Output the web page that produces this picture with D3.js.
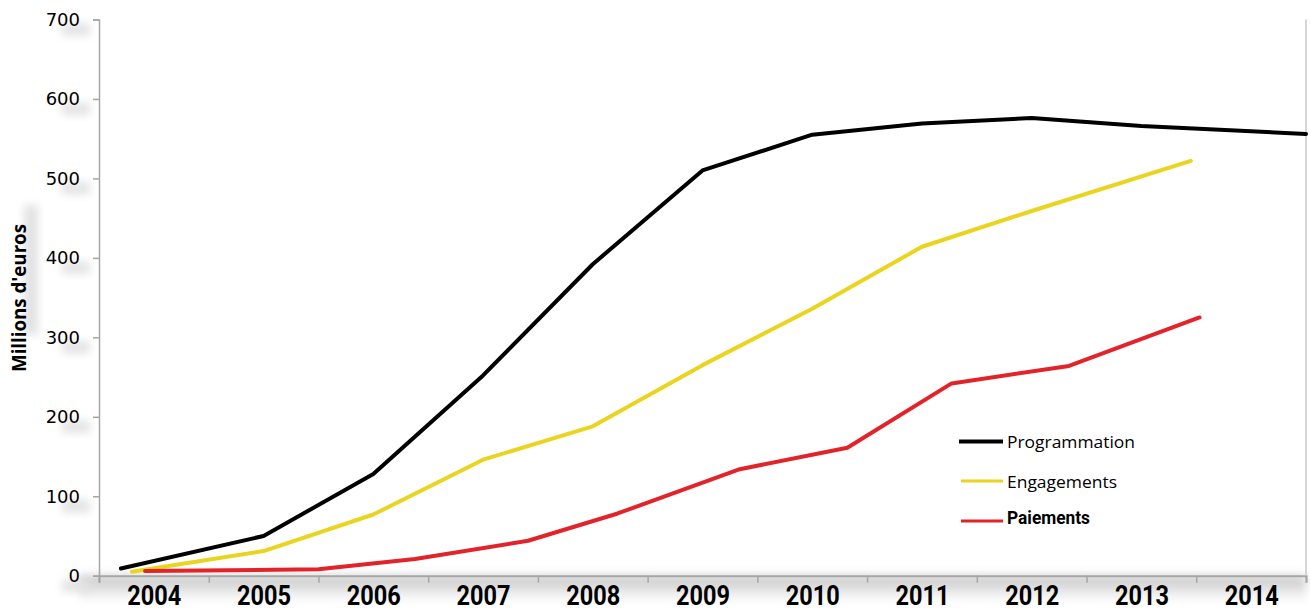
<!DOCTYPE html>
<html>
<head>
<meta charset="utf-8">
<script src="https://cdn.jsdelivr.net/npm/d3@7/dist/d3.min.js"></script>
<style>
  body { margin: 0; background: #fff; }
</style>
</head>
<body>
<svg id="chart"></svg>
<script>
const width = 1310;
const height = 608;
const margin = { top: 19.5, right: 4, bottom: 32.3, left: 99 };

// categories and ticks
const years = [2004, 2005, 2006, 2007, 2008, 2009, 2010, 2011, 2012, 2013, 2014];
const yTicks = [0, 100, 200, 300, 400, 500, 600, 700];

// series (x given as fractional years, as placed in the picture)
const progYears = [2003.7, 2005, 2006, 2007, 2008, 2009, 2010, 2011, 2012, 2013, 2014.5];
const progValues = [9, 50, 128, 252, 392, 510, 555, 569, 576, 566, 556];
const engYears = [2003.8, 2005, 2006, 2007, 2008, 2009, 2010, 2011, 2012, 2013.45];
const engValues = [5, 31, 77, 146, 188, 265, 336, 414, 459, 522];
const payYears = [2003.92, 2005.5, 2006.38, 2007.41, 2008.22, 2009.34, 2010.32, 2011.27, 2012.34, 2013.53];
const payValues = [6, 8, 21, 44, 78, 134, 161, 242, 264, 325];

const seriesNames = ["Programmation", "Engagements", "Paiements"];
const seriesColors = ["#000000", "#e9d41f", "#e3232a"];

const series = [
  { name: seriesNames[0], color: seriesColors[0], pts: progYears.map((x, i) => [x, progValues[i]]) },
  { name: seriesNames[1], color: seriesColors[1], pts: engYears.map((x, i) => [x, engValues[i]]) },
  { name: seriesNames[2], color: seriesColors[2], pts: payYears.map((x, i) => [x, payValues[i]]) }
];

const svg = d3.select("#chart").attr("width", width).attr("height", height);

const defs = svg.append("defs");
defs.append("filter").attr("id", "blur")
  .attr("x", "-50%").attr("y", "-50%").attr("width", "200%").attr("height", "200%")
  .append("feGaussianBlur").attr("stdDeviation", 4);
const grad = defs.append("linearGradient").attr("id", "band")
  .attr("x1", 0).attr("y1", 0).attr("x2", 0).attr("y2", 1);
grad.append("stop").attr("offset", "0%").attr("stop-color", "#c4c4c4");
grad.append("stop").attr("offset", "100%").attr("stop-color", "#ffffff");

const x = d3.scaleLinear()
  .domain([years[0] - 0.5, years[years.length - 1] + 0.5])
  .range([margin.left, width - margin.right]);

const y = d3.scaleLinear()
  .domain([0, 700])
  .range([height - margin.bottom, margin.top]);

// grey shadow band under the x axis
svg.append("rect")
  .attr("x", x.range()[0] - 20)
  .attr("y", y(0))
  .attr("width", x.range()[1] - x.range()[0] + 20)
  .attr("height", 26)
  .attr("fill", "url(#band)")
  .attr("filter", "url(#blur)");

// soft shadows beside the y labels
svg.append("g")
  .selectAll("rect")
  .data(yTicks)
  .join("rect")
  .attr("x", 62)
  .attr("y", d => y(d) + 4)
  .attr("width", 28)
  .attr("height", 12)
  .attr("fill", "#e2e2e2")
  .attr("filter", "url(#blur)");

// y axis
const yAxis = svg.append("g")
  .attr("transform", `translate(${margin.left},0)`)
  .call(d3.axisLeft(y).tickValues(yTicks).tickSize(6).tickPadding(13));
yAxis.select(".domain").attr("stroke", "#a6a6a6").attr("stroke-width", 1.5);
yAxis.selectAll(".tick line").attr("stroke", "#a6a6a6").attr("stroke-width", 1.5);
yAxis.selectAll(".tick text")
  .style("font-family", "DejaVu Sans, sans-serif")
  .style("font-size", "18px")
  .attr("fill", "#000");

// x axis: ticks at category boundaries, labels at centres
const bounds = d3.range(years.length + 1).map(i => years[0] - 0.5 + i);
const xAxis = svg.append("g")
  .attr("transform", `translate(0,${y(0)})`)
  .call(d3.axisBottom(x).tickValues(bounds).tickSize(7).tickFormat(""));
xAxis.select(".domain").attr("stroke", "#a6a6a6").attr("stroke-width", 2);
xAxis.selectAll(".tick line").attr("stroke", "#a6a6a6").attr("stroke-width", 1.5);

const xLabels = svg.append("g")
  .attr("transform", `translate(0,${y(0)})`)
  .call(d3.axisBottom(x).tickValues(years).tickSize(0).tickPadding(10).tickFormat(d3.format("d")));
xLabels.select(".domain").remove();
xLabels.selectAll(".tick text")
  .style("font-family", "Roboto, sans-serif")
  .style("font-weight", "700")
  .style("font-size", "27px")
  .attr("textLength", 54)
  .attr("lengthAdjust", "spacingAndGlyphs")
  .attr("fill", "#000");

// right border
svg.append("line")
  .attr("x1", x.range()[1]).attr("x2", x.range()[1])
  .attr("y1", y(700)).attr("y2", y(0))
  .attr("stroke", "#c8c8c8").attr("stroke-width", 1.5);

// y title (with shadow)
const titleX = 19;
const titleY = 298;
svg.append("rect")
  .attr("x", 24).attr("y", 205)
  .attr("width", 14).attr("height", 130)
  .attr("fill", "#e2e2e2")
  .attr("filter", "url(#blur)");
svg.append("text")
  .attr("transform", `translate(${titleX},${titleY}) rotate(-90)`)
  .attr("text-anchor", "middle")
  .attr("dy", "0.35em")
  .attr("textLength", 148)
  .attr("lengthAdjust", "spacingAndGlyphs")
  .style("font-family", "Open Sans, sans-serif")
  .style("font-weight", "700")
  .style("font-size", "19px")
  .attr("fill", "#000")
  .text("Millions d'euros");

// lines
const lineGen = d3.line().x(d => x(d[0])).y(d => y(d[1]));
svg.append("g")
  .selectAll("path")
  .data(series)
  .join("path")
  .attr("d", d => lineGen(d.pts))
  .attr("fill", "none")
  .attr("stroke", d => d.color)
  .attr("stroke-width", 4)
  .attr("stroke-linejoin", "round")
  .attr("stroke-linecap", "round");

// legend
const legendRows = [
  { y: 441.5, x1: 959, w: 4, font: "Open Sans, sans-serif", weight: 400, size: 17, dy: 6.5, len: 128 },
  { y: 481, x1: 961, w: 3, font: "Open Sans, sans-serif", weight: 400, size: 17, dy: 6.5, len: 110 },
  { y: 521, x1: 961, w: 3, font: "Roboto, sans-serif", weight: 700, size: 18, dy: 3.3, len: 83 }
];
const legend = svg.append("g");
series.forEach((s, i) => {
  const r = legendRows[i];
  legend.append("line")
    .attr("x1", r.x1).attr("x2", 1003)
    .attr("y1", r.y).attr("y2", r.y)
    .attr("stroke", s.color).attr("stroke-width", r.w);
  legend.append("text")
    .attr("x", 1007)
    .attr("y", r.y + r.dy)
    .attr("textLength", r.len)
    .attr("lengthAdjust", "spacingAndGlyphs")
    .style("font-family", r.font)
    .style("font-weight", r.weight)
    .style("font-size", r.size + "px")
    .attr("fill", "#000")
    .text(s.name);
});
</script>
</body>
</html>
